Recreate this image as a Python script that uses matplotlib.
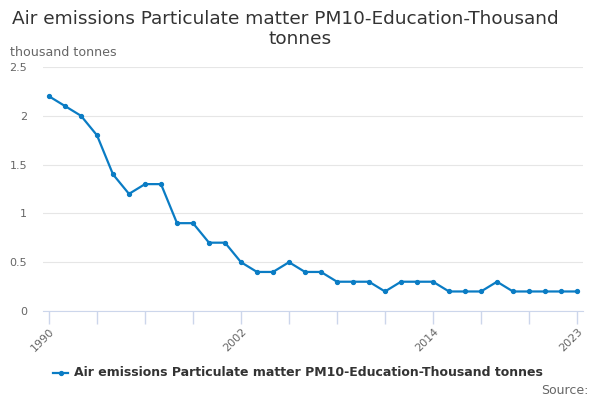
import numpy as np
import matplotlib
matplotlib.use('Agg')
import matplotlib.pyplot as plt

# data
years = np.arange(1990, 2024)
values = [2.2, 2.1, 2.0, 1.8, 1.4, 1.2, 1.3, 1.3, 0.9, 0.9,
          0.7, 0.7, 0.5, 0.4, 0.4, 0.5, 0.4, 0.4, 0.3, 0.3,
          0.3, 0.2, 0.3, 0.3, 0.3, 0.2, 0.2, 0.2, 0.3, 0.2,
          0.2, 0.2, 0.2, 0.2]
tick_years = np.arange(1990, 2024, 3)
label_years = [1990, 2002, 2014, 2023]
yticks = [0, 0.5, 1, 1.5, 2, 2.5]
ytick_labels = ['0', '0.5', '1', '1.5', '2', '2.5']
series_name = 'Air emissions Particulate matter PM10-Education-Thousand tonnes'

plt.rcParams['font.family'] = ['DejaVu Sans']
line_col = '#0a7cc4'
grey = '#666666'

fig = plt.figure(figsize=(6, 4), dpi=100)
ax = fig.add_axes([43 / 600, 1 - 311 / 400, 540 / 600, 244 / 400])

ax.plot(years, values, color=line_col, lw=1.6, marker='o', ms=2.8)

ax.set_xlim(1990 - 6 / 16, 2023 + 6 / 16)
ax.set_ylim(0, 2.5)
ax.set_yticks(yticks)
ax.set_yticklabels(ytick_labels, fontsize=8, color=grey)
ax.grid(axis='y', color='#e6e6e6', lw=0.8)
ax.set_axisbelow(True)
ax.tick_params(axis='y', length=0, pad=11.5)

ax.set_xticks(tick_years)
ax.set_xticklabels([str(y) if y in label_years else '' for y in tick_years],
                   rotation=45, ha='right', rotation_mode='anchor',
                   fontsize=8, color=grey)
ax.tick_params(axis='x', length=9, color='#ccd6eb', width=1, pad=2)

for s in ['top', 'right', 'left']:
    ax.spines[s].set_visible(False)
ax.spines['bottom'].set_color('#ccd6eb')

# title (two lines, as in the reference)
fig.text(285 / 600, 1 - 19 / 400, 'Air emissions Particulate matter PM10-Education-Thousand',
         ha='center', va='center', fontsize=13.3, color='#333333')
fig.text(0.5, 1 - 39 / 400, 'tonnes', ha='center', va='center',
         fontsize=13.3, color='#333333')
fig.text(10 / 600, 1 - 52 / 400, 'thousand tonnes', ha='left', va='center',
         fontsize=9.1, color=grey)

# legend
fig.lines.append(plt.Line2D([53 / 600, 68 / 600], [1 - 373 / 400] * 2,
                            transform=fig.transFigure, color=line_col, lw=1.6))
fig.lines.append(plt.Line2D([60.5 / 600], [1 - 373 / 400],
                            transform=fig.transFigure, color=line_col,
                            marker='o', ms=2.8, lw=0))
fig.text(74 / 600, 1 - 373 / 400, series_name, ha='left', va='center',
         fontsize=9.0, fontweight='bold', color='#333333')
fig.text(589 / 600, 1 - 390 / 400, 'Source:', ha='right', va='center',
         fontsize=9, color=grey)

fig.savefig('out.png', dpi=100)
